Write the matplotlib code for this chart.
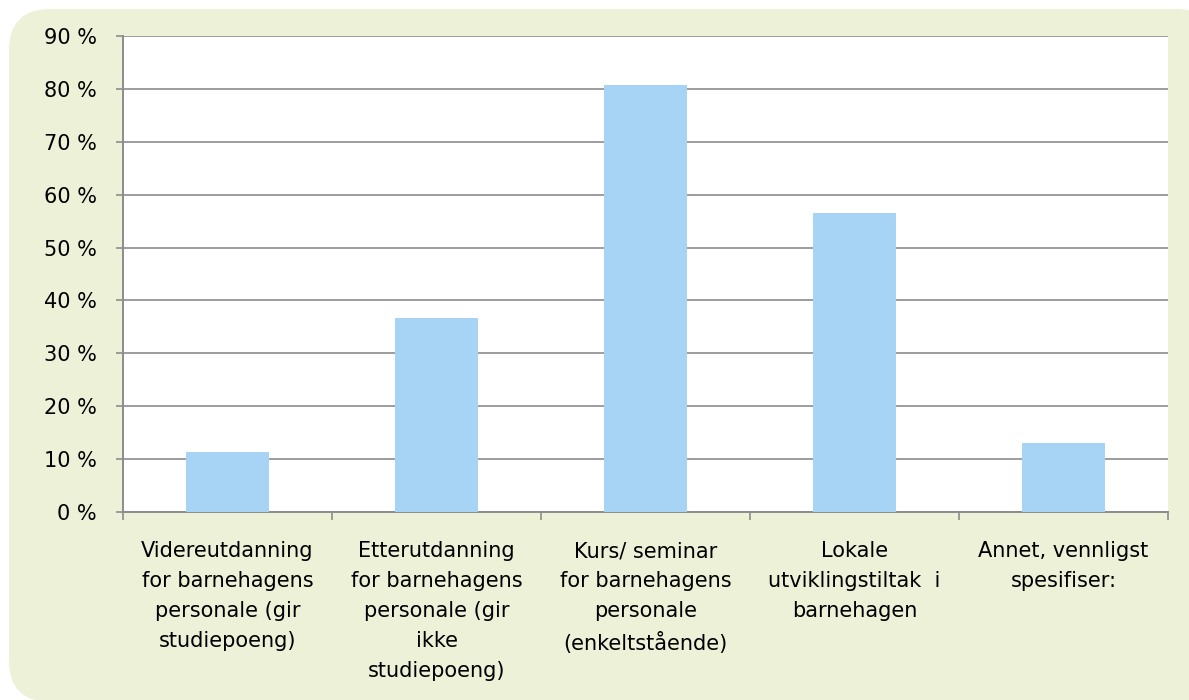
import matplotlib
matplotlib.use("Agg")
import matplotlib.pyplot as plt
from matplotlib.patches import FancyBboxPatch

# data
categories = [
    "Videreutdanning\nfor barnehagens\npersonale (gir\nstudiepoeng)",
    "Etterutdanning\nfor barnehagens\npersonale (gir\nikke\nstudiepoeng)",
    "Kurs/ seminar\nfor barnehagens\npersonale\n(enkeltstående)",
    "Lokale\nutviklingstiltak  i\nbarnehagen",
    "Annet, vennligst\nspesifiser:",
]
values = [11.3, 36.6, 80.8, 56.6, 13.0]
yticks = [0, 10, 20, 30, 40, 50, 60, 70, 80, 90]
ylabels = [f"{v} %" for v in yticks]

W, H = 1189, 700
fig = plt.figure(figsize=(W / 100, H / 100), dpi=100)
fig.patch.set_facecolor("white")

# rounded light-green panel behind the chart
bg = FancyBboxPatch((9 / W, -2 / H), (W + 20) / W, (H - 9 + 2) / H,
                    boxstyle="round,pad=0,rounding_size=0.035",
                    transform=fig.transFigure, facecolor="#ECF1D8",
                    edgecolor="none", zorder=-10, mutation_aspect=W / H)
fig.patches.append(bg)

ax = fig.add_axes([123 / W, 1 - 512 / H, (1168 - 123) / W, (512 - 36) / H])
ax.set_zorder(1)
ax.set_facecolor("white")

x = list(range(len(values)))
ax.bar(x, values, width=0.40, color="#A7D3F5", zorder=3)

ax.set_xlim(-0.5, len(values) - 0.5)
ax.set_ylim(0, 90)
ax.set_yticks(yticks)
ax.set_yticklabels(ylabels, fontsize=15)
ax.yaxis.grid(True, color="#8C8C8C", linewidth=1.2, zorder=1)
ax.set_axisbelow(True)

# category labels, ticks between categories
ax.set_xticks([i - 0.5 for i in range(len(values) + 1)])
ax.set_xticklabels([])
ax.set_xticks(x, minor=True)
ax.set_xticklabels(categories, minor=True, fontsize=15, linespacing=1.62,
                   va="top", ha="center")
ax.tick_params(axis="x", which="minor", length=0, pad=21)
ax.tick_params(axis="x", which="major", length=6, width=1.2, color="#8C8C8C",
               direction="out")
ax.tick_params(axis="y", length=5, width=1.2, color="#8C8C8C", pad=14)

for s in ["top", "right"]:
    ax.spines[s].set_visible(False)
for s in ["left", "bottom"]:
    ax.spines[s].set_color("#8C8C8C")
    ax.spines[s].set_linewidth(1.4)

fig.savefig("out.png", dpi=100)
